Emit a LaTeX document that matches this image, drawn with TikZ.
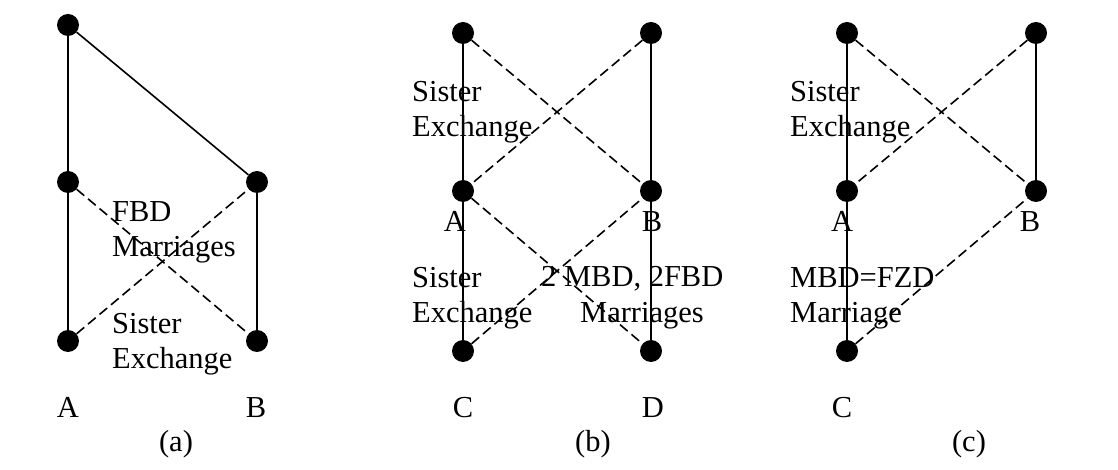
\documentclass[tikz,border=0pt]{standalone}
\usepackage{fontspec}
\setmainfont{Liberation Serif}
\begin{document}
\begin{tikzpicture}[x=1bp,y=-1bp,
  dot/.style={circle,fill=black,inner sep=0pt,minimum size=22bp},
  solidedge/.style={line width=1.6bp},
  dashedge/.style={line width=1.6bp,dash pattern=on 10bp off 5bp},
  lbl/.style={font=\fontsize{30.6pt}{35.6pt}\selectfont,inner sep=0pt,align=left,anchor=base west},
  letterlbl/.style={font=\fontsize{30.6pt}{35.6pt}\selectfont,inner sep=0pt,anchor=base}]
\useasboundingbox (0,0) rectangle (1118,470);
% panel (a)
\node[dot] (aT) at (68,25) {};
\node[dot] (aA) at (68,182) {};
\node[dot] (aC) at (68,341) {};
\node[dot] (aB) at (257,182) {};
\node[dot] (aD) at (257,341) {};
\draw[solidedge] (aT) -- (aA);
\draw[solidedge] (aT) -- (aB);
\draw[solidedge] (aA) -- (aC);
\draw[solidedge] (aB) -- (aD);
\draw[dashedge] (aA) -- (aD);
\draw[dashedge] (aC) -- (aB);
\node[lbl] (aL1) at (112,257) {FBD\\Marriages};
\node[lbl] (aL2) at (112,369) {Sister\\Exchange};
\node[letterlbl] (aLA) at (68,418) {A};
\node[letterlbl] (aLB) at (256,418) {B};
\node[letterlbl] (aCap) at (176,451) {(a)};
% panel (b)
\node[dot] (bT1) at (463,33) {};
\node[dot] (bT2) at (651,33) {};
\node[dot] (bA) at (463,191) {};
\node[dot] (bB) at (651,191) {};
\node[dot] (bC) at (463,351) {};
\node[dot] (bD) at (651,351) {};
\draw[solidedge] (bT1) -- (bA);
\draw[solidedge] (bT2) -- (bB);
\draw[solidedge] (bA) -- (bC);
\draw[solidedge] (bB) -- (bD);
\draw[dashedge] (bT1) -- (bB);
\draw[dashedge] (bT2) -- (bA);
\draw[dashedge] (bA) -- (bD);
\draw[dashedge] (bC) -- (bB);
\node[lbl] (bL1) at (412,137) {Sister\\Exchange};
\node[letterlbl] (bLA) at (455,232) {A};
\node[letterlbl] (bLB) at (652,232) {B};
\node[lbl] (bL2) at (412,323) {Sister\\Exchange};
\node[lbl] (bL3) at (541,287) {2 MBD, 2FBD};
\node[lbl] (bL4) at (580,323) {Marriages};
\node[letterlbl] (bLC) at (463,418) {C};
\node[letterlbl] (bLD) at (653,418) {D};
\node[letterlbl] (bCap) at (593,451) {(b)};
% panel (c)
\node[dot] (cT1) at (847,33) {};
\node[dot] (cT2) at (1036,33) {};
\node[dot] (cA) at (847,191) {};
\node[dot] (cB) at (1036,191) {};
\node[dot] (cC) at (847,351) {};
\draw[solidedge] (cT1) -- (cA);
\draw[solidedge] (cT2) -- (cB);
\draw[solidedge] (cA) -- (cC);
\draw[dashedge] (cT1) -- (cB);
\draw[dashedge] (cT2) -- (cA);
\draw[dashedge] (cC) -- (cB);
\node[lbl] (cL1) at (790,137) {Sister\\Exchange};
\node[letterlbl] (cLA) at (842,232) {A};
\node[letterlbl] (cLB) at (1030,232) {B};
\node[lbl] (cL2) at (790,323) {MBD=FZD\\Marriage};
\node[letterlbl] (cLC) at (842,418) {C};
\node[letterlbl] (cCap) at (969,451) {(c)};
\end{tikzpicture}
\end{document}
